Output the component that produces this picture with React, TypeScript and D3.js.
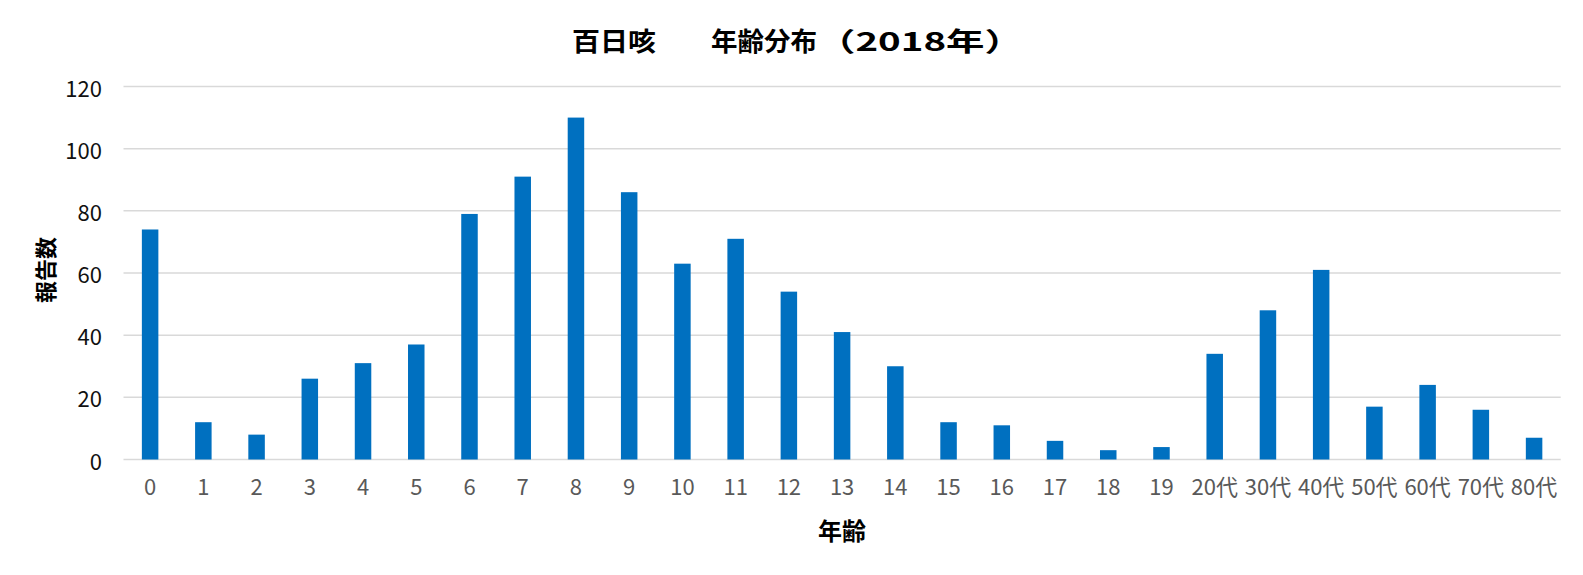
import React from "react";
import * as d3 from "d3";

const categories: string[] = [
  "0", "1", "2", "3", "4", "5", "6", "7", "8", "9",
  "10", "11", "12", "13", "14", "15", "16", "17", "18", "19",
  "20代", "30代", "40代", "50代", "60代", "70代", "80代",
];
const counts: number[] = [
  74, 12, 8, 26, 31, 37, 79, 91, 110, 86,
  63, 71, 54, 41, 30, 12, 11, 6, 3, 4,
  34, 48, 61, 17, 24, 16, 7,
];
const yTicks: number[] = [0, 20, 40, 60, 80, 100, 120];
const titleA = "百日咳";
const titleB = "年齢分布";
const titleC = "（2018年）";
const xTitle = "年齢";
const yTitle = "報告数";

const W = 1583;
const H = 575;
const FONT = "'Noto Sans CJK JP', 'Noto Sans', sans-serif";

export default function App() {
  const x = d3
    .scaleBand<string>()
    .domain(categories)
    .range([123.5, 1560.7])
    .paddingInner(0.69)
    .paddingOuter(0.345);
  const y = d3.scaleLinear().domain([0, 120]).range([459.5, 86.5]);

  const titleProps = {
    y: 51,
    fontSize: 26,
    fontWeight: "bold" as const,
    fill: "#000",
    lengthAdjust: "spacingAndGlyphs",
  };

  return (
    <svg
      width={W}
      height={H}
      style={{ position: "absolute", left: 0, top: 0, background: "#fff" }}
      fontFamily={FONT}
    >
      <rect x={0} y={0} width={W} height={H} fill="#fff" />
      {yTicks.map((t) => (
        <g key={t}>
          <line
            x1={123.5}
            x2={1560.7}
            y1={y(t)}
            y2={y(t)}
            stroke="#d9d9d9"
            strokeWidth={1.5}
          />
          <text
            x={102}
            y={y(t)}
            textAnchor="end"
            dominantBaseline="central"
            fontSize={22}
            fill="#111"
          >
            {t}
          </text>
        </g>
      ))}
      {categories.map((c, i) => (
        <rect
          key={c}
          x={x(c)!}
          y={y(counts[i])}
          width={x.bandwidth()}
          height={y(0) - y(counts[i])}
          fill="#0070C0"
        />
      ))}
      {categories.map((c) => (
        <text
          key={"l" + c}
          x={x(c)! + x.bandwidth() / 2}
          y={495}
          textAnchor="middle"
          fontSize={22}
          fill="#595959"
        >
          {c}
        </text>
      ))}
      <text x={572} textLength={84} {...titleProps}>
        {titleA}
      </text>
      <text x={711} textLength={106} {...titleProps}>
        {titleB}
      </text>
      <text x={817} textLength={206} {...titleProps}>
        {titleC}
      </text>
      <text
        x={842}
        y={540}
        textAnchor="middle"
        fontSize={24}
        fontWeight="bold"
        fill="#000"
      >
        {xTitle}
      </text>
      <text
        transform="translate(54,270) rotate(-90)"
        textAnchor="middle"
        fontSize={22}
        fontWeight="bold"
        fill="#000"
      >
        {yTitle}
      </text>
    </svg>
  );
}
